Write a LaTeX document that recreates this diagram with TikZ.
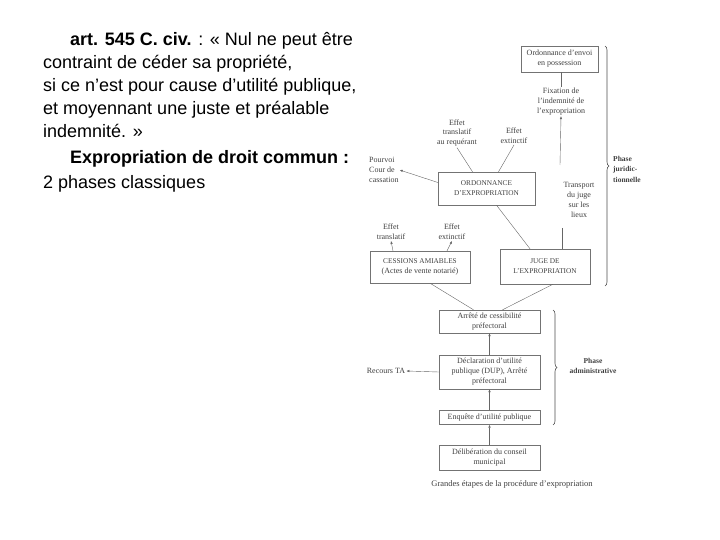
\documentclass[tikz,border=0pt]{standalone}
\usepackage{fontspec}
\setmainfont{Liberation Serif}
\newfontfamily\slidefont{Liberation Sans}
\usetikzlibrary{arrows.meta,decorations.pathreplacing}

\begin{document}
\begin{tikzpicture}[x=1pt, y=-1pt,
    box/.style={draw=black!55, align=center, inner sep=1pt, font=\fontsize{8}{10}\selectfont, text=black!75},
    caps/.style={font=\fontsize{7.3}{10}\selectfont},
    lbl/.style={align=center, inner sep=1pt, font=\fontsize{8}{9.8}\selectfont, text=black!75},
    link/.style={draw=black!60, thin},
    arrow/.style={-{Latex[length=3pt,width=2.4pt]}, draw=black!60, thin},
    phase/.style={decorate, decoration={brace, amplitude=4pt}, draw=black!70, semithick}
]
\useasboundingbox (0,0) rectangle (720,540);

% slide text
\node[anchor=north west, inner sep=0pt, align=left, font=\slidefont\fontsize{18}{23}\selectfont] (intro) at (43,32)
  {\hspace*{27pt}\textbf{art. 545 C. civ.} : « Nul ne peut être\\
   contraint de céder sa propriété,\\
   si ce n’est pour cause d’utilité publique,\\
   et moyennant une juste et préalable\\
   indemnité. »\\[3pt]
   \hspace*{27pt}\textbf{Expropriation de droit commun :}\\[2pt]
   2 phases classiques};

% phase juridictionnelle
\node[box, minimum width=77pt, minimum height=26pt] (envoi) at (559.5,59) {Ordonnance d’envoi\\en possession};
\node[lbl] (fixation) at (561,101.5) {Fixation de\\l’indemnité de\\l’expropriation};
\node[lbl] (transreq) at (457,133) {Effet\\translatif\\au requérant};
\node[lbl] (extinct) at (514,136) {Effet\\extinctif};
\node[lbl, align=left, anchor=west] (pourvoi) at (368,170) {Pourvoi\\Cour de\\cassation};
\node[box, caps, minimum width=97pt, minimum height=33pt] (ordo) at (486.5,188.5) {ORDONNANCE\\D’EXPROPRIATION};
\node[lbl] (transport) at (579,200) {Transport\\du juge\\sur les\\lieux};
\node[lbl] (cesstrans) at (391,232) {Effet\\translatif};
\node[lbl] (cessext) at (452,232) {Effet\\extinctif};
\node[box, minimum width=100pt, minimum height=32pt] (cessions) at (420,267) {{\fontsize{7.3}{10}\selectfont CESSIONS AMIABLES}\\(Actes de vente notarié)};
\node[box, caps, minimum width=90pt, minimum height=35pt] (juge) at (545,266.5) {JUGE DE\\L’EXPROPRIATION};
\coordinate (transtop) at (560,165);
\coordinate (transbot) at (562,228);

% phase administrative
\node[box, minimum width=101pt, minimum height=23pt] (arrete) at (489.5,321.5) {Arrêté de cessibilité\\préfectoral};
\node[box, minimum width=101pt, minimum height=34pt] (dup) at (489.5,372) {Déclaration d’utilité\\publique (DUP), Arrêté\\préfectoral};
\node[lbl] (recours) at (386,371) {Recours TA};
\node[box, minimum width=101pt, minimum height=14pt] (enquete) at (489.5,417.5) {Enquête d’utilité publique};
\node[box, minimum width=101pt, minimum height=25pt] (delib) at (489.5,458) {Délibération du conseil\\municipal};
\node[lbl, font=\fontsize{8.5}{10}\selectfont] (caption) at (512,484) {Grandes étapes de la procédure d’expropriation};

% connectors
\draw[link] (fixation.north) -- (fixation.north |- envoi.south);
\draw[arrow] (transtop) -- (fixation.south);
\draw[link] (transbot) -- (transbot |- juge.north);
\draw[link] ([xshift=-14pt]ordo.north) -- (transreq.south);
\draw[link] ([xshift=12pt]ordo.north) -- (extinct.south);
\draw[arrow] ([yshift=6pt]ordo.west) -- (pourvoi.east);
\draw[link] ([xshift=10pt]ordo.south) -- ([xshift=-15pt]juge.north);
\draw[arrow] ([xshift=-27pt]cessions.north) -- (cesstrans.south);
\draw[arrow] ([xshift=27pt]cessions.north) -- (cessext.south);
\draw[link] ([xshift=10pt]cessions.south) -- ([xshift=-16pt]arrete.north);
\draw[link] ([xshift=8pt]juge.south) -- ([xshift=13pt]arrete.north);
\draw[arrow] (dup) -- (arrete);
\draw[arrow] (dup.west) -- (recours.east);
\draw[arrow] (enquete) -- (dup);
\draw[arrow] (delib) -- (enquete);

% braces
\draw[phase] (605,46) -- (605,286);
\node[lbl, anchor=west, align=left, font=\bfseries\fontsize{7.5}{10.5}\selectfont] (jurid) at (612,169) {Phase\\juridic-\\tionnelle};
\draw[phase] (553,310) -- (553,425);
\node[lbl, font=\bfseries\fontsize{7.5}{10}\selectfont] (admin) at (593,366) {Phase\\administrative};
\end{tikzpicture}
\end{document}
